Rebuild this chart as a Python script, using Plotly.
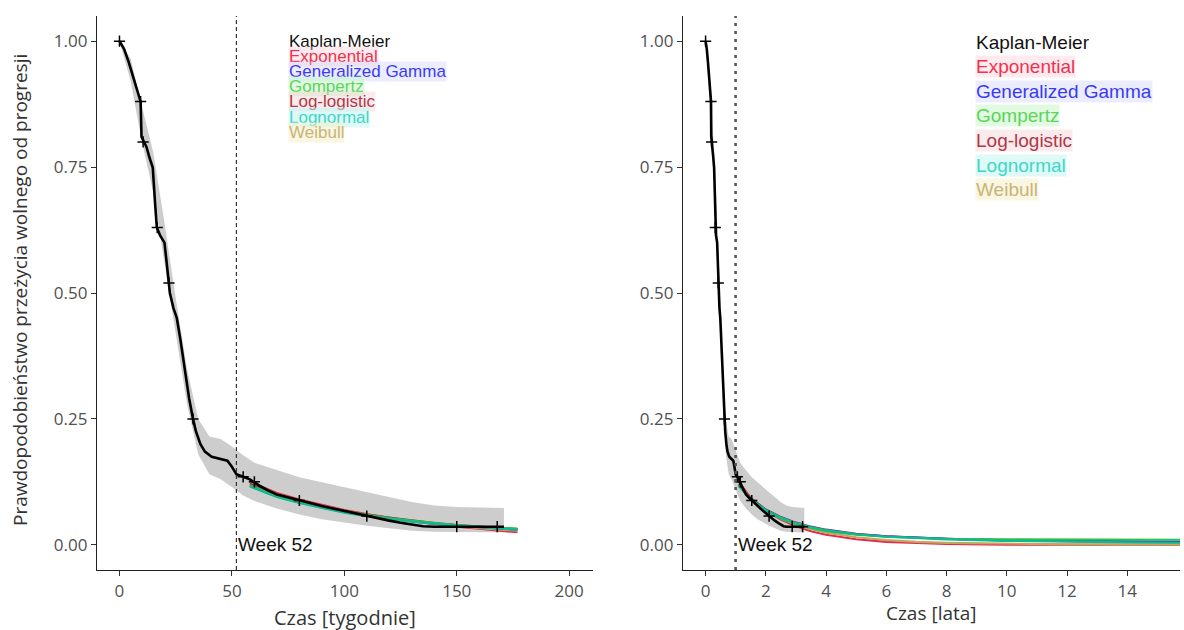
import plotly.graph_objects as go

WEEKS_PER_YEAR = 52.18

# Kaplan-Meier estimate (time in weeks)
km_weeks = [0, 2, 4, 6, 8, 9.4, 9.8, 12, 13.4, 14.8, 15.8, 16.6, 18, 20, 21, 22.4, 24, 25.5, 27, 28,
            29.5, 31, 32.7, 34, 36, 38, 41, 44, 48, 50, 52, 55, 58, 62, 66, 70, 75, 80, 85, 90,
            95, 100, 105, 110, 115, 120, 125, 130, 135, 140, 150, 160, 171]
km_surv = [1.0, 0.985, 0.96, 0.93, 0.90, 0.88, 0.81, 0.79, 0.768, 0.749, 0.68, 0.63, 0.615, 0.60, 0.56, 0.50, 0.47, 0.45, 0.41, 0.38,
           0.33, 0.29, 0.25, 0.225, 0.20, 0.185, 0.175, 0.172, 0.167, 0.155, 0.14, 0.135, 0.13, 0.118, 0.108, 0.10, 0.094, 0.088, 0.082, 0.077,
           0.072, 0.067, 0.062, 0.057, 0.052, 0.048, 0.044, 0.040, 0.037, 0.036, 0.036, 0.036, 0.036]

# censoring marks
cens_weeks = [0, 9.4, 10.5, 16.8, 22, 32.7, 55, 60, 80, 110, 150, 168]
cens_surv = [1.0, 0.88, 0.80, 0.63, 0.52, 0.25, 0.135, 0.125, 0.088, 0.057, 0.036, 0.036]

# KM confidence band
band_weeks = [0, 5, 10, 15, 20, 25, 30, 35, 40, 45, 50, 55, 60, 70, 80, 90, 100, 110, 120, 130, 140, 150, 160, 171]
band_hi = [1.0, 0.965, 0.87, 0.78, 0.64, 0.49, 0.35, 0.25, 0.215, 0.21, 0.195, 0.178, 0.163, 0.148, 0.134, 0.124, 0.114, 0.104,
           0.094, 0.085, 0.078, 0.075, 0.074, 0.073]
band_lo = [1.0, 0.92, 0.80, 0.70, 0.56, 0.42, 0.28, 0.18, 0.14, 0.13, 0.115, 0.098, 0.087, 0.072, 0.060, 0.051, 0.044, 0.038,
           0.033, 0.028, 0.026, 0.025, 0.025, 0.025]

# Parametric fits, left panel (weeks)
fit_weeks = [58, 70, 80, 90, 100, 110, 120, 130, 140, 150, 160, 170, 177]
exp_w = [0.125, 0.103, 0.090, 0.079, 0.069, 0.061, 0.053, 0.047, 0.041, 0.036, 0.032, 0.028, 0.025]
weib_w = [0.122, 0.101, 0.088, 0.077, 0.068, 0.060, 0.053, 0.047, 0.042, 0.037, 0.033, 0.030, 0.028]
llog_w = [0.121, 0.100, 0.087, 0.076, 0.068, 0.060, 0.054, 0.048, 0.043, 0.039, 0.036, 0.033, 0.031]
ggam_w = [0.117, 0.096, 0.084, 0.074, 0.065, 0.058, 0.052, 0.047, 0.042, 0.038, 0.035, 0.032, 0.030]
gomp_w = [0.118, 0.097, 0.085, 0.074, 0.066, 0.059, 0.053, 0.048, 0.043, 0.039, 0.036, 0.034, 0.032]
lnorm_w = [0.116, 0.095, 0.083, 0.073, 0.064, 0.057, 0.051, 0.046, 0.042, 0.038, 0.035, 0.032, 0.030]

# Parametric fits, right panel (years)
fit_years = [1.1, 1.5, 2, 2.5, 3, 3.5, 4, 5, 6, 7, 8, 10, 12, 14, 16]
exp_y = [0.125, 0.093, 0.068, 0.050, 0.037, 0.027, 0.020, 0.011, 0.006, 0.0032, 0.0017, 0.0005, 0.00015, 0.00005, 0.00001]
weib_y = [0.122, 0.092, 0.069, 0.052, 0.040, 0.031, 0.024, 0.015, 0.0095, 0.006, 0.004, 0.0018, 0.0008, 0.0004, 0.0002]
llog_y = [0.120, 0.092, 0.070, 0.055, 0.044, 0.036, 0.030, 0.022, 0.017, 0.014, 0.012, 0.009, 0.007, 0.006, 0.005]
ggam_y = [0.118, 0.090, 0.069, 0.054, 0.043, 0.035, 0.029, 0.021, 0.017, 0.014, 0.012, 0.009, 0.008, 0.007, 0.006]
gomp_y = [0.118, 0.090, 0.068, 0.052, 0.041, 0.033, 0.027, 0.020, 0.016, 0.014, 0.012, 0.011, 0.0105, 0.0102, 0.010]
lnorm_y = [0.117, 0.090, 0.069, 0.054, 0.043, 0.035, 0.029, 0.021, 0.016, 0.013, 0.011, 0.008, 0.006, 0.005, 0.004]

model_names = ["Kaplan-Meier", "Exponential", "Generalized Gamma", "Gompertz", "Log-logistic", "Lognormal", "Weibull"]
y_ticks = [0, 0.25, 0.5, 0.75, 1.0]
y_ticktext = ["0.00", "0.25", "0.50", "0.75", "1.00"]
x_ticks_left = [0, 50, 100, 150, 200]
x_ticks_right = [0, 2, 4, 6, 8, 10, 12, 14]

line_colors = {
    "Exponential": "#e8284a",
    "Generalized Gamma": "#2f3cf0",
    "Gompertz": "#2fc04a",
    "Log-logistic": "#a8283c",
    "Lognormal": "#12b890",
    "Weibull": "#c0a860",
}
text_colors = {
    "Kaplan-Meier": "#111111",
    "Exponential": "#f0304c",
    "Generalized Gamma": "#3a3af5",
    "Gompertz": "#5cd45c",
    "Log-logistic": "#b03848",
    "Lognormal": "#3fd6c8",
    "Weibull": "#c8b478",
}
text_bg = {
    "Kaplan-Meier": "rgba(0,0,0,0)",
    "Exponential": "rgba(255,205,215,0.4)",
    "Generalized Gamma": "rgba(205,210,255,0.4)",
    "Gompertz": "rgba(200,245,200,0.55)",
    "Log-logistic": "rgba(245,205,210,0.4)",
    "Lognormal": "rgba(195,245,240,0.55)",
    "Weibull": "rgba(245,238,200,0.55)",
}

fit_left = [("Exponential", exp_w), ("Weibull", weib_w), ("Log-logistic", llog_w),
            ("Generalized Gamma", ggam_w), ("Gompertz", gomp_w), ("Lognormal", lnorm_w)]
fit_right = [("Exponential", exp_y), ("Weibull", weib_y), ("Log-logistic", llog_y),
             ("Generalized Gamma", ggam_y), ("Gompertz", gomp_y), ("Lognormal", lnorm_y)]

fig = go.Figure()

def add_panel(xa, ya, scale, fits, fit_x):
    bx = [t / scale for t in band_weeks]
    fig.add_trace(go.Scatter(x=bx, y=band_lo, mode="lines", line=dict(width=0, color="rgba(0,0,0,0)"),
                             xaxis=xa, yaxis=ya, showlegend=False, hoverinfo="skip"))
    fig.add_trace(go.Scatter(x=bx, y=band_hi, mode="lines", line=dict(width=0, color="rgba(0,0,0,0)"),
                             fill="tonexty", fillcolor="rgba(135,135,135,0.42)",
                             xaxis=xa, yaxis=ya, showlegend=False, hoverinfo="skip"))
    for name, vals in fits:
        fig.add_trace(go.Scatter(x=fit_x, y=vals, mode="lines", line=dict(color=line_colors[name], width=2.2),
                                 xaxis=xa, yaxis=ya, showlegend=False, name=name))
    fig.add_trace(go.Scatter(x=[t / scale for t in km_weeks], y=km_surv, mode="lines",
                             line=dict(color="black", width=2.6), xaxis=xa, yaxis=ya, showlegend=False))
    fig.add_trace(go.Scatter(x=[t / scale for t in cens_weeks], y=cens_surv, mode="markers",
                             marker=dict(symbol="cross-thin", size=8, line=dict(color="black", width=1.5)),
                             xaxis=xa, yaxis=ya, showlegend=False))

add_panel("x", "y", 1.0, fit_left, fit_weeks)
add_panel("x2", "y2", WEEKS_PER_YEAR, fit_right, fit_years)

W, H = 1184, 630
TOP, BOTTOM = 16, 60
PLOT_H = H - TOP - BOTTOM

def py(pix):
    return (H - BOTTOM - pix) / PLOT_H

axis_common = dict(showline=True, linecolor="#222", linewidth=1.2, ticks="outside", ticklen=5,
                   tickcolor="#333", tickwidth=1, showgrid=False, zeroline=False,
                   tickfont=dict(family="Open Sans", size=17, color="#505050"))

fig.update_layout(
    width=W, height=H,
    margin=dict(l=0, r=0, t=TOP, b=BOTTOM),
    plot_bgcolor="white", paper_bgcolor="white",
    showlegend=False,
    xaxis=dict(domain=[97 / W, 593 / W], range=[-10, 210.6], tickvals=x_ticks_left, anchor="y", **axis_common),
    yaxis=dict(domain=[0, 1], range=[-0.05, 1.05], tickvals=y_ticks, ticktext=y_ticktext, anchor="x", **axis_common),
    xaxis2=dict(domain=[683 / W, 1180 / W], range=[-0.75, 15.75], tickvals=x_ticks_right, anchor="y2", **axis_common),
    yaxis2=dict(domain=[0, 1], range=[-0.05, 1.05], tickvals=y_ticks, ticktext=y_ticktext, anchor="x2", **axis_common),
)

fig.add_shape(type="line", xref="x", yref="y domain", x0=52, x1=52, y0=0, y1=1,
              line=dict(color="#333", width=1.2, dash="4px,3px"))
fig.add_shape(type="line", xref="x2", yref="y2 domain", x0=52 / WEEKS_PER_YEAR, x1=52 / WEEKS_PER_YEAR, y0=0, y1=1,
              line=dict(color="#555", width=2.6, dash="3px,5px"))

ann = []
ann.append(dict(x=52, y=0, xref="x", yref="y", text="Week 52", showarrow=False, xanchor="left", yanchor="middle",
                xshift=0, font=dict(family="Liberation Sans", size=19, color="#111")))
ann.append(dict(x=52 / WEEKS_PER_YEAR, y=0, xref="x2", yref="y2", text="Week 52", showarrow=False, xanchor="left",
                yanchor="middle", xshift=0, font=dict(family="Liberation Sans", size=19, color="#111")))

for i, name in enumerate(model_names):
    ann.append(dict(x=75, y=1.0 - i * 15.2 / 504, xref="x", yref="y", text=name, showarrow=False,
                    xanchor="left", yanchor="middle", bgcolor=text_bg[name], borderpad=0,
                    font=dict(family="Liberation Sans", size=17, color=text_colors[name])))
    ann.append(dict(x=8.93, y=0.998 - i * 24.6 / 504, xref="x2", yref="y2", text=name, showarrow=False,
                    xanchor="left", yanchor="middle", bgcolor=text_bg[name], borderpad=0,
                    font=dict(family="Liberation Sans", size=19, color=text_colors[name])))

ann.append(dict(x=20 / W, y=py(290), xref="paper", yref="paper", text="Prawdopodobieństwo przeżycia wolnego od progresji",
                textangle=-90, showarrow=False, xanchor="center", yanchor="middle",
                font=dict(family="Open Sans", size=19, color="#333")))
ann.append(dict(x=345 / W, y=py(617), xref="paper", yref="paper", text="Czas [tygodnie]", showarrow=False,
                xanchor="center", yanchor="middle", font=dict(family="Open Sans", size=20, color="#333")))
ann.append(dict(x=931 / W, y=py(613), xref="paper", yref="paper", text="Czas [lata]", showarrow=False,
                xanchor="center", yanchor="middle", font=dict(family="Open Sans", size=19, color="#333")))

fig.update_layout(annotations=ann)
fig.write_html("out.html")
